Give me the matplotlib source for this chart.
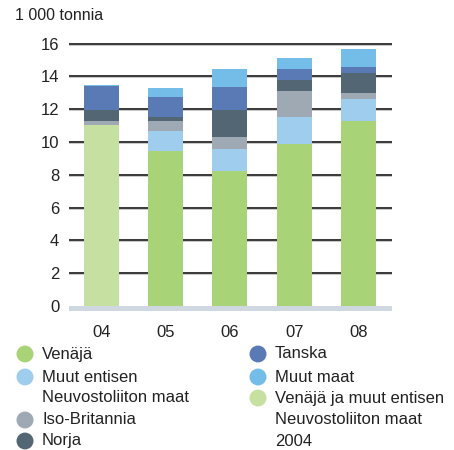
import matplotlib
matplotlib.use("Agg")
import matplotlib.pyplot as plt
from matplotlib.patches import Circle

years = ["04", "05", "06", "07", "08"]
venaja_ja_muut_2004 = [11.05, 0, 0, 0, 0]
venaja = [0, 9.47, 8.2, 9.85, 11.3]
muut_entisen = [0, 1.21, 1.34, 1.64, 1.33]
iso_britannia = [0.2, 0.61, 0.79, 1.64, 0.37]
norja = [0.7, 0.24, 1.64, 0.67, 1.23]
tanska = [1.45, 1.21, 1.4, 0.67, 0.36]
muut_maat = [0.05, 0.55, 1.08, 0.67, 1.09]
yticks = [0, 2, 4, 6, 8, 10, 12, 14, 16]

series = [
    ("Venäjä ja muut entisen\nNeuvostoliiton maat\n2004", venaja_ja_muut_2004, "#c5e0a0"),
    ("Venäjä", venaja, "#a9d377"),
    ("Muut entisen\nNeuvostoliiton maat", muut_entisen, "#9fcdee"),
    ("Iso-Britannia", iso_britannia, "#9fa9b3"),
    ("Norja", norja, "#526674"),
    ("Tanska", tanska, "#5a7ab5"),
    ("Muut maat", muut_maat, "#74bde9"),
]

W, H = 454, 450
fig = plt.figure(figsize=(W / 100, H / 100), dpi=100)
FONT = "Liberation Sans"
plt.rcParams["font.family"] = FONT
FS = 12

# axes in pixel positions
x0, x1 = 69, 392
y_zero, y_top_val = 306.0, 43.5  # pixel of 0 and 16
ppu = (y_zero - y_top_val) / 16.0
ymin, ymax = -0.32, 16.25
ax_bottom_px = y_zero + (-ymin) * ppu
ax_top_px = y_zero - ymax * ppu
ax = fig.add_axes([x0 / W, 1 - ax_bottom_px / H, (x1 - x0) / W, (ax_bottom_px - ax_top_px) / H])
ax.set_ylim(ymin, ymax)
xs = list(range(len(years)))
ax.set_xlim(-0.5, 4.52)

for s in ax.spines.values():
    s.set_visible(False)
ax.tick_params(length=0)
ax.set_xticks(xs)
ax.set_xticklabels(years, fontsize=FS, color="#222222")
ax.tick_params(axis="x", pad=10)
ax.set_yticks(yticks)
ax.set_yticklabels([str(v) for v in yticks], fontsize=FS, color="#222222")
ax.tick_params(axis="y", pad=7)

for v in yticks[1:]:
    ax.axhline(v, color="#c9c9c9", lw=2.2, zorder=1)
    ax.axhline(v, color="#222222", lw=1.2, zorder=1.1)
ax.axhspan(ymin, 0, color="#cfd7e0", lw=0, zorder=1)

bottoms = [0.0] * len(years)
for name, vals, col in series:
    ax.bar(xs, vals, width=0.545, bottom=bottoms, color=col, zorder=2, linewidth=0)
    bottoms = [b + v for b, v in zip(bottoms, vals)]

fig.text(15 / W, 1 - 16 / H, "1 000 tonnia", fontsize=11.5, va="center", ha="left", color="#222222")

# legend
leg_left = [("Venäjä", "#a9d377", 354), ("Muut entisen", "#9fcdee", 377), (None, None, 398),
            ("Iso-Britannia", "#9fa9b3", 420), ("Norja", "#526674", 441)]
leg_texts_left = {398: "Neuvostoliiton maat"}
leg_right = [("Tanska", "#5a7ab5", 354), ("Muut maat", "#74bde9", 377),
             ("Venäjä ja muut entisen", "#c5e0a0", 398)]
extra_right = [("Neuvostoliiton maat", 420), ("2004", 441)]

def circ(xp, yp, col):
    c = Circle((xp / W, 1 - yp / H), 8.5 / W, transform=fig.transFigure, color=col, lw=0)
    fig.patches.append(c)

for txt, col, yp in leg_left:
    if txt is None:
        fig.text(42 / W, 1 - yp / H, leg_texts_left[yp], fontsize=FS, va="center", color="#222222")
        continue
    circ(25, yp, col)
    fig.text(42 / W, 1 - yp / H, txt, fontsize=FS, va="center", color="#222222")
for txt, col, yp in leg_right:
    circ(258, yp, col)
    fig.text(275 / W, 1 - yp / H, txt, fontsize=FS, va="center", color="#222222")
for txt, yp in extra_right:
    fig.text(275 / W, 1 - yp / H, txt, fontsize=FS, va="center", color="#222222")

fig.savefig("out.png", dpi=100)
